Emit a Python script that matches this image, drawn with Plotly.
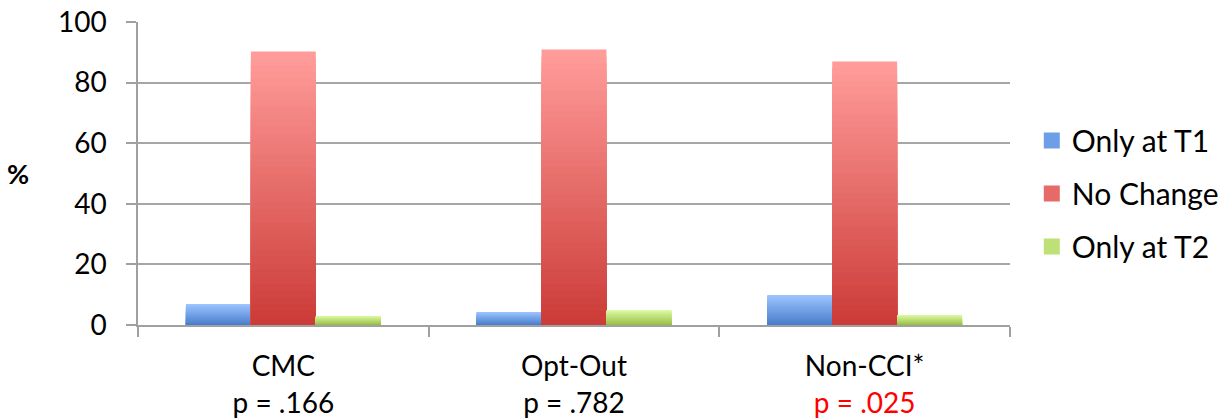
import plotly.graph_objects as go

categories = ["CMC", "Opt-Out", "Non-CCI*"]
p_values = ["p = .166", "p = .782", "p = .025"]
p_colors = ["black", "black", "red"]

series_names = ["Only at T1", "No Change", "Only at T2"]
only_t1 = [6.9, 4.3, 9.9]
no_change = [90.3, 90.9, 87.0]
only_t2 = [3.0, 4.9, 3.3]
y_ticks = [0, 20, 40, 60, 80, 100]

# gradient end colours (top, bottom) per series
grad = {
    "Only at T1": ((0x9C, 0xC4, 0xFF), (0x4A, 0x7E, 0xCC)),
    "No Change": ((0xFF, 0x9C, 0x9A), (0xCC, 0x3C, 0x38)),
    "Only at T2": ((0xDC, 0xFA, 0xA2), (0x9A, 0xC0, 0x48)),
}
legend_col = {"Only at T1": "#6E9FE6", "No Change": "#E56B68", "Only at T2": "#BDE176"}

labels = [f"{c}<br><span style='color:{pc}'>{p}</span>" for c, p, pc in zip(categories, p_values, p_colors)]

FONT = "Lato, 'Open Sans', sans-serif"
fig = go.Figure()
K = 40
for name, vals in zip(series_names, [only_t1, no_change, only_t2]):
    top, bot = grad[name]
    for j in range(K):
        f = j / (K - 1)
        col = "rgb(%d,%d,%d)" % tuple(round(top[i] + (bot[i] - top[i]) * f) for i in range(3))
        frac = 1 - j / K
        fig.add_trace(go.Bar(
            x=labels, y=[v * frac for v in vals], offsetgroup=name,
            marker=dict(color=col, line=dict(width=0)),
            showlegend=False, hoverinfo="skip",
        ))
    fig.add_trace(go.Scatter(
        x=[None], y=[None], mode="markers", name=name, legendgroup=name,
        marker=dict(symbol="square", size=19, color=legend_col[name]),
    ))

fig.update_layout(
    width=1226, height=420,
    barmode="group", bargap=0.33, bargroupgap=0,
    margin=dict(l=138, r=216, t=22, b=95, autoexpand=False),
    plot_bgcolor="white", paper_bgcolor="white",
    font=dict(family=FONT, size=28, color="black"),
    legend=dict(x=1.025, y=0.434, xanchor="left", yanchor="middle",
                font=dict(size=30), tracegroupgap=11, itemsizing="trace"),
    xaxis=dict(showline=True, linecolor="#A0A0A0", linewidth=1.5, automargin=False,
               ticks="outside", ticklen=10, tickcolor="#A0A0A0", tickwidth=1.5,
               tickson="boundaries", showgrid=False, tickfont=dict(size=28),
               ticklabelstandoff=16),
    yaxis=dict(range=[0, 100], tickvals=y_ticks, showline=True, linecolor="#A0A0A0", linewidth=1.5,
               automargin=False,
               ticks="outside", ticklen=10, tickcolor="#A0A0A0", tickwidth=1.5,
               showgrid=True, gridcolor="#A6A6A6", gridwidth=1.5, zeroline=False,
               ticklabelstandoff=14, tickfont=dict(size=28)),
    annotations=[dict(text="<b>%</b>", xref="paper", yref="paper",
                      x=-0.153, y=0.5, xanchor="left", yanchor="middle",
                      showarrow=False, font=dict(size=27))],
)
fig.write_html("out.html", config={"displayModeBar": False},
               post_script="document.body.style.margin='0';")
